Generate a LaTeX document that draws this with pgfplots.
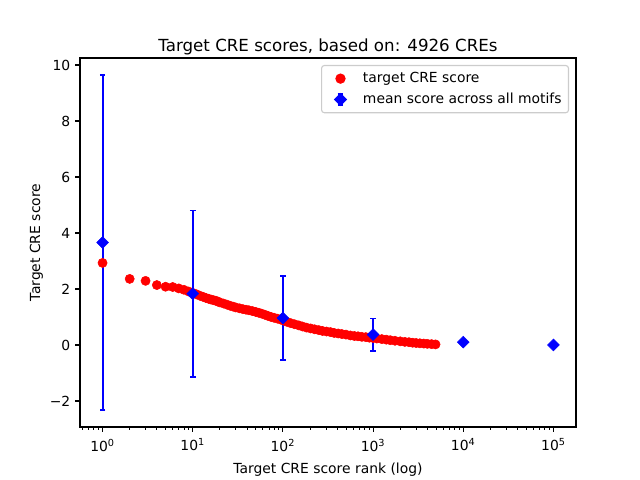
\documentclass[border=0pt]{standalone}
\usepackage{fontspec}
\setmainfont{DejaVu Sans}
\usepackage{pgfplots}
\pgfplotsset{compat=1.18}

% target CRE scores by rank
\pgfplotstableread{
rank score
1 2.93
2 2.36
3 2.29
4 2.14
5 2.08
6 2.07
7 2.02
8 1.97
9 1.91
10 1.86
11 1.81
12 1.76
13 1.72
14 1.68
15 1.65
16 1.62
17 1.60
18 1.58
19 1.55
20 1.52
22 1.48
24 1.44
26 1.40
28 1.37
30 1.34
33 1.31
36 1.28
39 1.26
42 1.24
46 1.21
50 1.18
54 1.15
58 1.12
63 1.08
68 1.04
74 1.00
80 0.97
87 0.94
94 0.91
100 0.88
110 0.83
122 0.78
135 0.74
150 0.70
165 0.66
183 0.62
203 0.59
225 0.56
250 0.53
275 0.50
305 0.48
337 0.46
370 0.43
410 0.41
450 0.39
500 0.37
560 0.34
620 0.32
680 0.31
750 0.29
830 0.28
910 0.26
1000 0.25
1100 0.23
1250 0.21
1400 0.19
1550 0.17
1750 0.15
2000 0.13
2250 0.11
2500 0.10
2750 0.08
3000 0.07
3300 0.06
3650 0.05
4000 0.04
4450 0.03
4926 0.02
}\scores

% mean score across all motifs
\pgfplotstableread{
x y e
1 3.66 5.98
10 1.83 2.97
100 0.96 1.50
1000 0.37 0.58
10000 0.10 0.00
100000 0.00 0.00
}\means

\begin{document}
\fontsize{10pt}{12pt}\selectfont
\begin{tikzpicture}
\useasboundingbox (0,0) rectangle (460.8pt,345.6pt);
\begin{axis}[
  at={(57.6pt,38.16pt)}, anchor=south west,
  scale only axis, width=357.12pt, height=265.68pt,
  xmode=log, log basis x=10,
  xmin=0.5623, xmax=177828,
  ymin=-2.93, ymax=10.25,
  xtick={1,10,100,1000,10000,100000},
  xticklabels={10\textsuperscript{0},10\textsuperscript{1},10\textsuperscript{2},10\textsuperscript{3},10\textsuperscript{4},10\textsuperscript{5}},
  minor xtick={0.6,0.7,0.8,0.9,2,3,4,5,6,7,8,9,20,30,40,50,60,70,80,90,200,300,400,500,600,700,800,900,2000,3000,4000,5000,6000,7000,8000,9000,20000,30000,40000,50000,60000,70000,80000,90000},
  ytick={-2,0,2,4,6,8,10},
  yticklabels={−2,0,2,4,6,8,10},
  tick align=outside, tick pos=left,
  major tick length=3.5pt, minor tick length=2pt,
  every tick/.style={black, line width=0.8pt},
  minor tick style={line width=0.6pt},
  axis line style={line width=0.8pt},
  tick label style={font=\fontsize{10pt}{12pt}\selectfont},
  xticklabel style={yshift=-1.5pt},
  title={Target CRE scores, based on: 4926 CREs},
  title style={font=\fontsize{12pt}{14pt}\selectfont, yshift=-7pt},
  xlabel={Target CRE score rank (log)},
  ylabel={Target CRE score},
  label style={font=\fontsize{10pt}{12pt}\selectfont},
  xlabel style={yshift=-1.5pt},
  ylabel style={yshift=-2pt},
  legend cell align=left,
  legend style={at={(1,1)}, anchor=north east, xshift=-5pt, yshift=-5pt,
    draw=black!20, rounded corners=2pt, line width=0.8pt,
    font=\fontsize{10pt}{12pt}\selectfont, row sep=2pt, inner sep=3pt},
]
\addplot[only marks, mark=*, mark size=3.3pt, mark options={draw=red, fill=red},
  legend image code/.code={
    \path (0.3cm-10.2pt,0pt) (0.3cm+13.8pt,0pt);
    \path plot[mark=*, mark size=3.3pt, mark options={draw=red, fill=red}] coordinates {(0.3cm,0cm)};
  }]
  table[x=rank, y=score] {\scores};
\addlegendentry{target CRE score}

\addplot[only marks, blue, mark=square*, mark size=3pt,
  mark options={rotate=45, draw=blue, fill=blue},
  legend image code/.code={
    \path (0.3cm-10.2pt,0pt) (0.3cm+13.8pt,0pt);
    \draw[blue, line width=1.5pt] (0.3cm,-4pt) -- (0.3cm,4pt);
    \draw[blue, line width=1pt] (0.3cm-2pt,4pt) -- (0.3cm+2pt,4pt) (0.3cm-2pt,-4pt) -- (0.3cm+2pt,-4pt);
    \path[blue] plot[mark=square*, mark size=3pt, mark options={rotate=45, draw=blue, fill=blue}] coordinates {(0.3cm,0cm)};
  },
  error bars/.cd, y dir=both, y explicit,
  error bar style={line width=1.5pt, blue},
  error mark options={rotate=90, mark size=2pt, line width=1pt, blue}]
  table[x=x, y=y, y error=e] {\means};
\addlegendentry{mean score across all motifs}
\end{axis}
\end{tikzpicture}
\end{document}
